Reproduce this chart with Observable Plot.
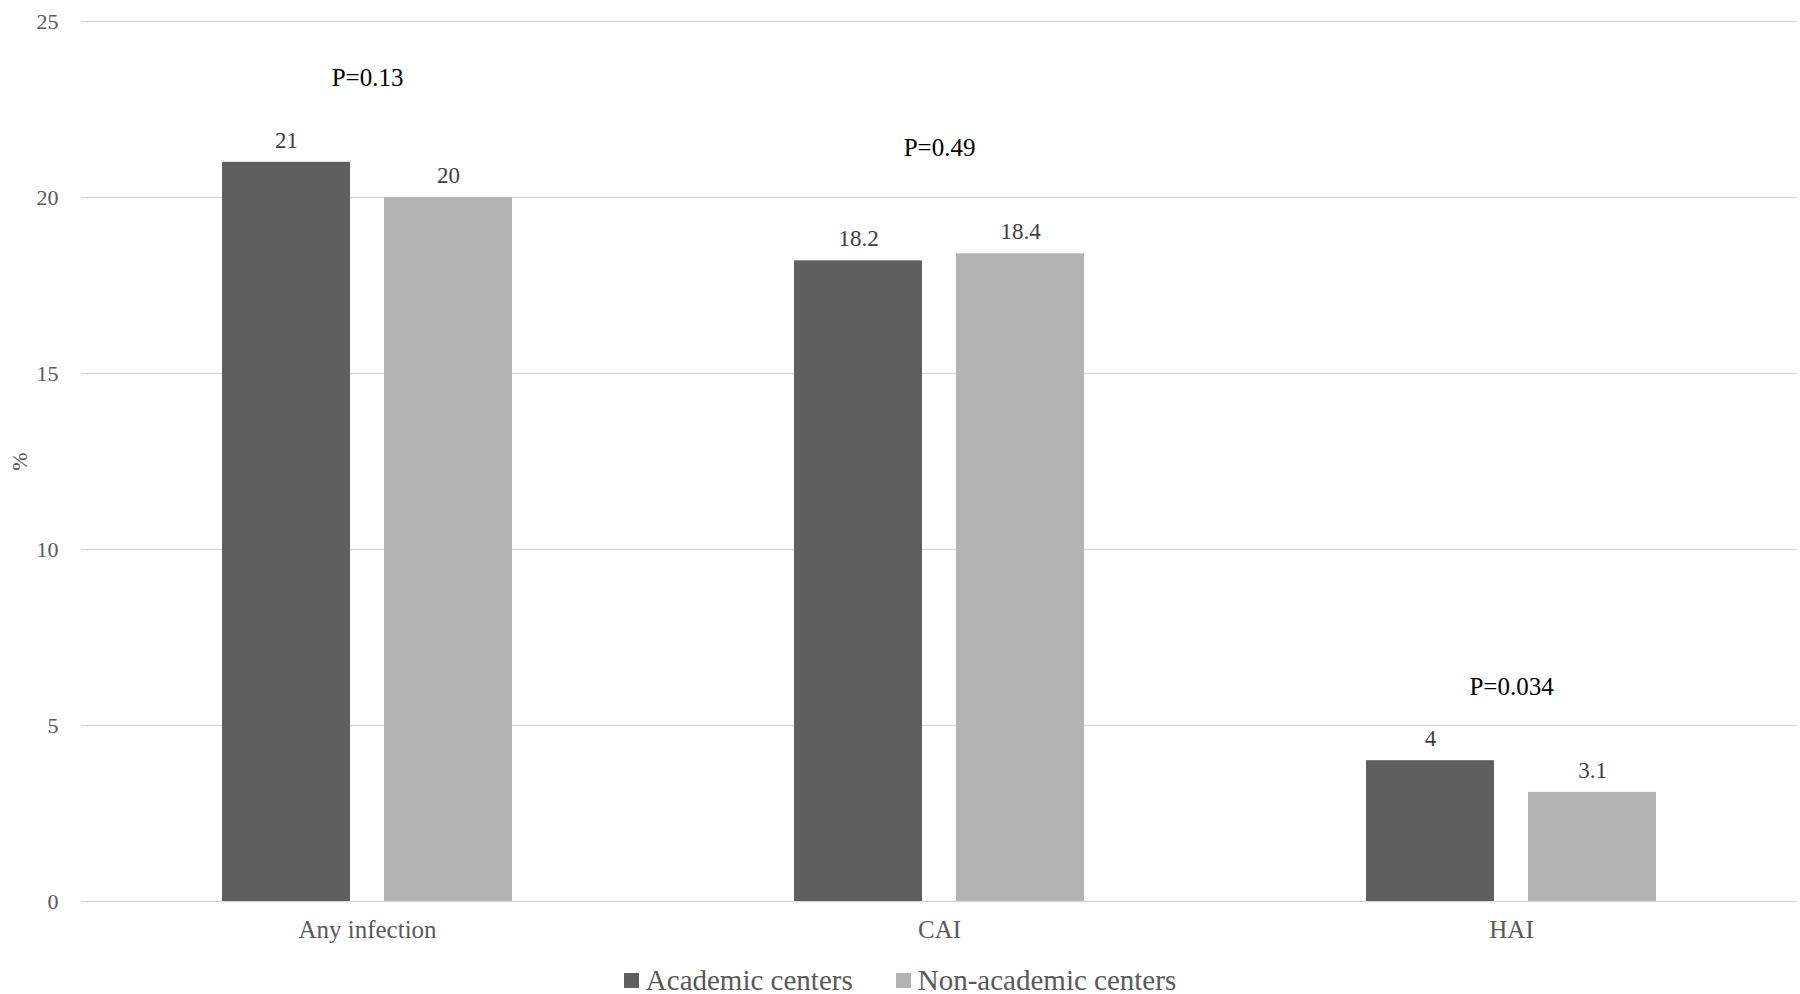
<!DOCTYPE html>
<html>
<head>
<meta charset="utf-8">
<script src="https://cdn.jsdelivr.net/npm/d3@7"></script>
<script src="https://cdn.jsdelivr.net/npm/@observablehq/plot@0.6"></script>
<style>
  html, body { margin: 0; padding: 0; background: #fff; overflow: hidden; }
  body { font-family: "Liberation Serif", "Times New Roman", serif; width: 1800px; }
  #legend { display: flex; justify-content: center; align-items: center; height: 40px; font-size: 29px; color: #595959; }
  .item { display: flex; align-items: center; }
  .item + .item { margin-left: 43px; }
  .sw { width: 15px; height: 15px; margin-right: 7px; }
</style>
</head>
<body>
<div id="chart"></div>
<div id="legend"></div>
<script>
const categories = ["Any infection", "CAI", "HAI"];
const series = ["Academic centers", "Non-academic centers"];
const academic = [21, 18.2, 4];
const nonAcademic = [20, 18.4, 3.1];
const pValues = ["P=0.13", "P=0.49", "P=0.034"];
const pLabelY = [23.4, 21.4, 6.1];
const yTicks = [0, 5, 10, 15, 20, 25];
const colors = ["#5f5f5f", "#b3b3b3"];

const rows = categories.flatMap((c, i) => [
  {category: c, series: series[0], value: academic[i]},
  {category: c, series: series[1], value: nonAcademic[i]}
]);
const pRows = categories.map((c, i) => ({category: c, p: pValues[i], y: pLabelY[i]}));

const chart = Plot.plot({
  width: 1800,
  height: 960,
  marginLeft: 80,
  marginRight: 3,
  marginTop: 21,
  marginBottom: 59,
  style: {fontFamily: "'Liberation Serif', 'Times New Roman', serif", background: "#fff"},
  fx: {domain: categories, padding: 0},
  x: {domain: series, paddingInner: 0.212, paddingOuter: 0.868, axis: null},
  y: {domain: [0, 25]},
  color: {domain: series, range: colors},
  marks: [
    Plot.gridY(yTicks, {stroke: "#d9d9d9", strokeOpacity: 1, strokeWidth: 1.3}),
    Plot.barY(rows, {fx: "category", x: "series", y: "value", fill: "series"}),
    Plot.text(rows, {fx: "category", x: "series", y: "value", text: d => String(d.value), dy: -22, fontSize: 23, fill: "#404040"}),
    Plot.text(pRows, {fx: "category", y: "y", text: "p", fontSize: 25, fill: "#000"}),
    Plot.axisY(yTicks, {tickSize: 0, tickPadding: 23, fontSize: 22, fill: "#595959", label: "%", labelAnchor: "center", labelOffset: 70, labelArrow: "none"}),
    Plot.axisFx({anchor: "bottom", tickSize: 0, tickPadding: 19, fontSize: 25, fill: "#595959", label: null})
  ]
});
document.getElementById("chart").appendChild(chart);

const legend = document.getElementById("legend");
series.forEach((s, i) => {
  const item = document.createElement("div");
  item.className = "item";
  const sw = document.createElement("div");
  sw.className = "sw";
  sw.style.background = colors[i];
  const t = document.createElement("span");
  t.textContent = s;
  item.appendChild(sw);
  item.appendChild(t);
  legend.appendChild(item);
});
</script>
</body>
</html>
